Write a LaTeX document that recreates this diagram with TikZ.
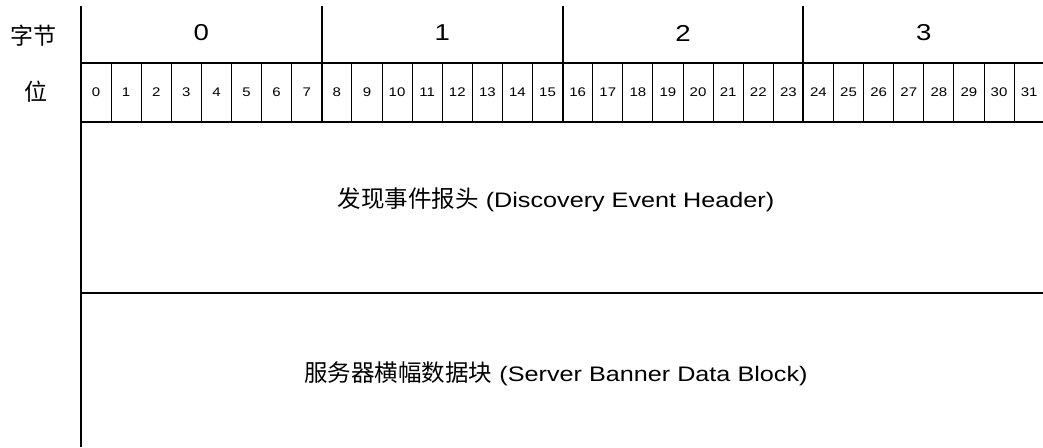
\documentclass[tikz,border=0pt]{standalone}
\usepackage{fontspec}
\setmainfont{Liberation Sans}[FakeStretch=1.2]
\newfontfamily\cjk{Noto Sans CJK SC}
\begin{document}
\begin{tikzpicture}[x=1pt,y=-1pt,
  thickline/.style={line width=2pt},
  thinline/.style={line width=0.9pt},
  bytelbl/.style={inner sep=0pt, font=\fontsize{23}{25}\selectfont},
  bitlbl/.style={inner sep=0pt, font=\fontsize{12.5}{14}\selectfont},
  rowlbl/.style={inner sep=0pt, font=\cjk\fontsize{23}{25}\selectfont},
  fieldlbl/.style={inner sep=0pt, font=\fontsize{21}{24}\selectfont}]
\newcommand\fieldcjk{\cjk\fontsize{23.5}{26}\selectfont}
\useasboundingbox (0,0) rectangle (1043,447);
\begin{scope}
\clip (0,0) rectangle (1043,447);
\def\w{30.1}
\foreach \i in {1,...,31} { \draw[thinline] ({81+\i*\w},63) -- ({81+\i*\w},122); }
\foreach \i in {1,2,3} { \draw[thickline] ({81+8*\i*\w},6) -- ({81+8*\i*\w},122); }
\draw[thickline] (81,6) -- (81,447);
\draw[thickline] (81,63) -- (1043,63);
\draw[thickline] (81,122) -- (1043,122);
\draw[thickline] (81,293) -- (1043,293);
\foreach \i in {0,...,3} { \node[bytelbl] (byte\i) at ({81+(8*\i+4)*\w},33) {\i}; }
\foreach \i in {0,...,31} { \node[bitlbl] (bit\i) at ({81+(\i+0.5)*\w},92) {\i}; }
\end{scope}
\node[rowlbl] (bytes) at (33,36) {字节};
\node[rowlbl] (bits) at (36,92) {位};
\node[fieldlbl] (hdr) at (556,200) {{\fieldcjk 发现事件报头} (Discovery Event Header)};
\node[fieldlbl] (banner) at (556,374) {{\fieldcjk 服务器横幅数据块} (Server Banner Data Block)};
\end{tikzpicture}
\end{document}
